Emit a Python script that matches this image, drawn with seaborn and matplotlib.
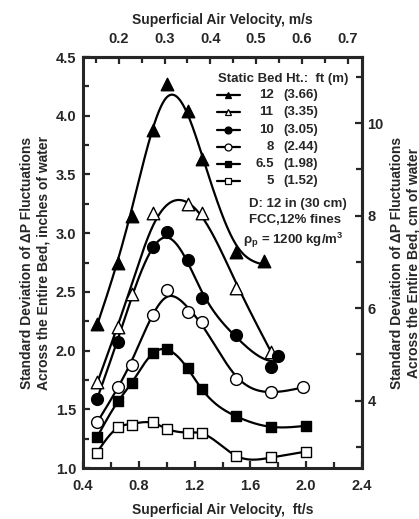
import numpy as np
import pandas as pd
import matplotlib
matplotlib.use("Agg")
import matplotlib.pyplot as plt
from matplotlib.lines import Line2D
from matplotlib.ticker import MultipleLocator, FixedLocator, FormatStrFormatter
import seaborn as sns

# Static bed heights, ft (m)
bed_ft = ["12", "11", "10", "8", "6.5", "5"]
bed_m = ["(3.66)", "(3.35)", "(3.05)", "(2.44)", "(1.98)", "(1.52)"]

# Superficial air velocity (ft/s) and std. dev. of dP (inches of water)
x_12 = [0.50, 0.65, 0.75, 0.90, 1.00, 1.15, 1.25, 1.50, 1.70]
y_12 = [2.23, 2.75, 3.15, 3.88, 4.27, 4.04, 3.63, 2.84, 2.76]

x_11 = [0.50, 0.65, 0.75, 0.90, 1.15, 1.25, 1.50, 1.75]
y_11 = [1.73, 2.20, 2.48, 3.17, 3.25, 3.17, 2.53, 1.99]

x_10 = [0.50, 0.65, 0.90, 1.00, 1.15, 1.25, 1.50, 1.75, 1.80]
y_10 = [1.59, 2.07, 2.88, 3.01, 2.77, 2.45, 2.13, 1.86, 1.95]

x_8 = [0.50, 0.65, 0.75, 0.90, 1.00, 1.15, 1.25, 1.50, 1.75, 1.98]
y_8 = [1.39, 1.69, 1.88, 2.30, 2.52, 2.33, 2.24, 1.76, 1.65, 1.69]

x_65 = [0.50, 0.65, 0.75, 0.90, 1.00, 1.15, 1.25, 1.50, 1.75, 2.00]
y_65 = [1.26, 1.57, 1.72, 1.98, 2.01, 1.85, 1.67, 1.44, 1.35, 1.36]

x_5 = [0.50, 0.65, 0.75, 0.90, 1.00, 1.15, 1.25, 1.50, 1.75, 2.00]
y_5 = [1.13, 1.35, 1.37, 1.39, 1.33, 1.30, 1.30, 1.10, 1.09, 1.14]

series_x = [x_12, x_11, x_10, x_8, x_65, x_5]
series_y = [y_12, y_11, y_10, y_8, y_65, y_5]
markers = ["^", "^", "o", "o", "s", "s"]
filled = [True, False, True, False, True, False]
msizes = [9, 9, 8.5, 8.5, 7.5, 7.5]
smooth_lam = [4e-4, 8e-4, 3e-4, 2.5e-4, 3e-5, 3e-5]


def smoothing_curve(x, y, lam, n=400):
    """Penalised least-squares (cubic-spline-like) fit on a fine grid."""
    x = np.asarray(x, float)
    y = np.asarray(y, float)
    g = np.linspace(x.min(), x.max(), n)
    h = g[1] - g[0]
    A = np.zeros((len(x), n))
    for i, xi in enumerate(x):
        j = min(int((xi - g[0]) / h), n - 2)
        t = (xi - g[j]) / h
        A[i, j] = 1 - t
        A[i, j + 1] = t
    D = np.diff(np.eye(n), 2, axis=0) / h ** 2
    M = A.T @ A + lam * h * (D.T @ D)
    f = np.linalg.solve(M, A.T @ y)
    return g, f


sns.set_style("ticks")
plt.rcParams["font.family"] = ["Liberation Sans", "DejaVu Sans"]
plt.rcParams["font.weight"] = "bold"
plt.rcParams["axes.labelweight"] = "bold"
plt.rcParams["mathtext.fontset"] = "custom"
plt.rcParams["mathtext.rm"] = "Liberation Sans:bold"
plt.rcParams["mathtext.it"] = "Liberation Sans:bold"
plt.rcParams["mathtext.bf"] = "Liberation Sans:bold"
plt.rcParams["mathtext.default"] = "rm"

fig = plt.figure(figsize=(4.19, 5.19), dpi=100)
ax = fig.add_axes([83 / 419, 51 / 519, 279 / 419, 411 / 519])

for i in range(len(bed_ft)):
    gx, gy = smoothing_curve(series_x[i], series_y[i], smooth_lam[i])
    curve = pd.DataFrame({"v": gx, "sd": gy})
    sns.lineplot(data=curve, x="v", y="sd", ax=ax, color="black",
                 linewidth=1.6, sort=False, zorder=2)
    pts = pd.DataFrame({"v": series_x[i], "sd": series_y[i]})
    sns.scatterplot(data=pts, x="v", y="sd", ax=ax, marker=markers[i],
                    s=msizes[i] ** 2,
                    color="black" if filled[i] else "white",
                    edgecolor="black", linewidth=1.0, zorder=3)

ax.set_xlim(0.4, 2.4)
ax.set_ylim(1.0, 4.5)
ax.xaxis.set_major_locator(MultipleLocator(0.4))
ax.xaxis.set_minor_locator(MultipleLocator(0.2))
ax.yaxis.set_major_locator(MultipleLocator(0.5))
ax.yaxis.set_minor_locator(MultipleLocator(0.25))
ax.xaxis.set_major_formatter(FormatStrFormatter("%.1f"))
ax.yaxis.set_major_formatter(FormatStrFormatter("%.1f"))

tick_kw = dict(direction="in", width=1.6, labelsize=10.5)
ax.tick_params(axis="both", which="major", length=5, **tick_kw)
ax.tick_params(axis="both", which="minor", length=4, direction="in", width=1.6)
ax.tick_params(axis="x", which="major", pad=8)
ax.tick_params(axis="y", which="major", pad=5)
ax.tick_params(top=False, right=False, which="both")
for sp in ax.spines.values():
    sp.set_linewidth(2.2)
    sp.set_visible(True)

ax.set_xlabel("Superficial Air Velocity,  ft/s", fontsize=10, fontweight="bold")
ax.set_ylabel("Standard Deviation of \u0394P Fluctuations\n"
              "Across the Entire Bed, inches of water",
              fontsize=10, fontweight="bold", linespacing=1.2)
ax.xaxis.set_label_coords(0.5, -0.084)
ax.yaxis.set_label_coords(-0.118, 0.5)

# Metric axes: m/s on top, cm of water on the right
top = ax.secondary_xaxis("top", functions=(lambda f: f * 0.3048,
                                            lambda m: m / 0.3048))
top.xaxis.set_major_locator(FixedLocator([0.2, 0.3, 0.4, 0.5, 0.6, 0.7]))
top.xaxis.set_minor_locator(FixedLocator([0.15, 0.25, 0.35, 0.45, 0.55, 0.65]))
top.xaxis.set_major_formatter(FormatStrFormatter("%.1f"))
top.tick_params(which="major", length=5, pad=8, **tick_kw)
top.tick_params(which="minor", length=4, direction="in", width=1.6)
top.spines["top"].set_linewidth(2.2)
top.set_xlabel("Superficial Air Velocity, m/s", fontsize=10,
               fontweight="bold", labelpad=6)

right = ax.secondary_yaxis("right", functions=(lambda i: i * 2.54,
                                                lambda c: c / 2.54))
right.yaxis.set_major_locator(FixedLocator([4, 6, 8, 10]))
right.yaxis.set_minor_locator(FixedLocator([3, 5, 7, 9, 11]))
right.tick_params(which="major", length=5, pad=4, **tick_kw)
right.tick_params(which="minor", length=4, direction="in", width=1.6)
right.spines["right"].set_linewidth(2.2)

# Right-hand axis title, placed beside the cm tick labels
fig.text(405 / 419, (51 + 411 / 2) / 519,
         "Standard Deviation of \u0394P Fluctuations\n"
         "Across the Entire Bed, cm of water",
         rotation=90, ha="center", va="center", multialignment="center",
         fontsize=10, fontweight="bold", linespacing=1.2)

# Legend block
tr = ax.transAxes
ax.text(0.484, 0.946, "Static Bed Ht.:  ft (m)", transform=tr, fontsize=9.5,
        fontweight="bold", ha="left", va="center")
ys = [0.908, 0.865, 0.823, 0.781, 0.740, 0.698]
for i in range(len(bed_ft)):
    yy = ys[i]
    ax.add_line(Line2D([0.480, 0.563], [yy, yy], transform=tr, color="black",
                       linewidth=1.6, zorder=4))
    ax.add_line(Line2D([0.5215], [yy], transform=tr, marker=markers[i],
                       markersize=5 if markers[i] != "s" else 4.5,
                       markerfacecolor="black" if filled[i] else "white",
                       markeredgecolor="black", markeredgewidth=0.9,
                       linestyle="none", zorder=5))
    ax.text(0.683, yy, bed_ft[i], transform=tr, fontsize=9.5,
            fontweight="bold", ha="right", va="center")
    ax.text(0.717, yy, bed_m[i], transform=tr, fontsize=9.5,
            fontweight="bold", ha="left", va="center")

ax.text(0.595, 0.642, "D: 12 in (30 cm)", transform=tr, fontsize=9.5,
        fontweight="bold", ha="left", va="center")
ax.text(0.595, 0.603, "FCC,12% fines", transform=tr, fontsize=9.5,
        fontweight="bold", ha="left", va="center")
ax.text(0.572, 0.553, "\u03c1$_\\mathregular{p}$ = 1200 kg/m$^\\mathregular{3}$",
        transform=tr, fontsize=9.5, fontweight="bold", ha="left", va="center")

fig.savefig("out.png", dpi=100)
